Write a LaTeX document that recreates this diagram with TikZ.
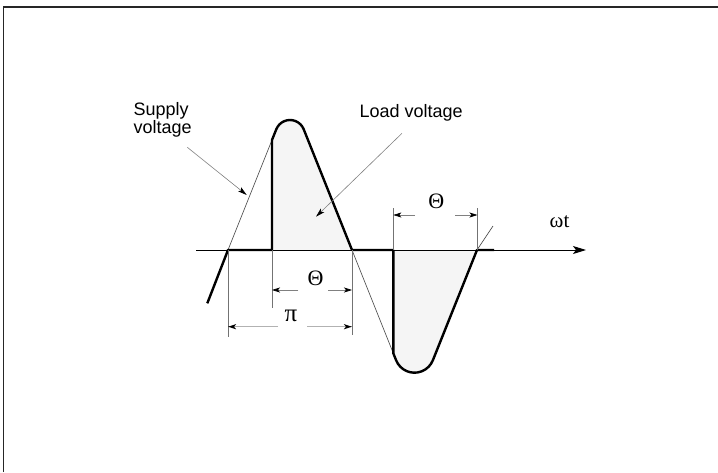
\documentclass[tikz,border=0pt]{standalone}
\usepackage{fontspec}
\setmainfont{Liberation Sans}
\newfontfamily\symfont{Liberation Serif}
\usetikzlibrary{arrows.meta}
\tikzset{
  wave/.style={line width=2.4pt, line join=round, black},
  supply/.style={line width=0.6pt, black!75},
  lobe/.style={fill=black!4},
  axisline/.style={line width=0.9pt, black, -{Stealth[length=13pt,width=8pt,inset=3pt]}},
  extline/.style={line width=0.6pt, black!55},
  dimthin/.style={line width=0.7pt, black!50, -{Stealth[length=8pt,width=5pt,inset=2pt,color=black]}},
  dimwide/.style={line width=1.4pt, black!30, -{Stealth[length=8pt,width=5pt,inset=2pt,color=black]}},
  leader/.style={line width=0.6pt, black!50, -{Stealth[length=9pt,width=5pt,inset=2pt,color=black]}},
  lbl/.style={inner sep=0pt, font=\fontsize{18}{16.7}\selectfont},
  greek/.style={inner sep=0pt, font=\symfont\fontsize{22}{22}\selectfont},
}
\begin{document}
\begin{tikzpicture}[x=1pt,y=-1pt]
\useasboundingbox (0,0) rectangle (718,472);
% frame
\draw[line width=1.3pt, black!85] (3.5,472) -- (3.5,7) -- (718,7);

% key points
\coordinate (start) at (207.3,303.3);
\coordinate (z1) at (228,250);
\coordinate (f1) at (272,250);
\coordinate (f1top) at (272,140);
\coordinate (t1) at (276.29,129.28);
\coordinate (z2) at (352,250);
\coordinate (f2) at (393.3,250);
\coordinate (f2bot) at (393.3,353.25);
\coordinate (t2) at (396.1,360.25);
\coordinate (z3) at (477,250);
\coordinate (tailthick) at (494,250);
\coordinate (tailthin) at (493,226);

% shaded lobes
\fill[lobe] (f1) -- (f1top) -- (t1) arc[start angle=201.8, end angle=338.2, radius=14.77] -- (z2) -- cycle;
\fill[lobe] (f2) -- (f2bot) -- (t2) arc[start angle=158.2, end angle=21.8, radius=19.8] -- (z3) -- cycle;

% axis
\coordinate (ax0) at (196,250);
\coordinate (ax1) at (586,250);
\draw[axisline] (ax0) -- (ax1);
\node[anchor=base west, inner sep=0pt, font=\symfont\fontsize{21}{21}\selectfont] (wt) at (549.5,227.7) {ωt};

% supply voltage (thin)
\draw[supply] (start) -- (z1) -- (t1) arc[start angle=201.8, end angle=338.2, radius=14.77] -- (z2)
  -- (t2) arc[start angle=158.2, end angle=21.8, radius=19.8] -- (z3) -- (tailthin);

% load voltage (thick)
\draw[wave] (start) -- (z1) -- (f1) -- (f1top) -- (t1) arc[start angle=201.8, end angle=338.2, radius=14.77] -- (z2)
  -- (f2) -- (f2bot) -- (t2) arc[start angle=158.2, end angle=21.8, radius=19.8] -- (z3) -- (tailthick);

% extension lines
\coordinate (e1) at (228,337);
\coordinate (e2) at (272,308.3);
\coordinate (e3) at (352,335);
\coordinate (e4) at (393.3,208);
\coordinate (e5) at (477.5,208);
\coordinate (z3b) at (477.5,250);
\draw[extline] (z1) -- (e1);
\draw[extline] (f1) -- (e2);
\draw[extline] (z2) -- (e3);
\draw[extline] (f2) -- (e4);
\draw[extline] (z3b) -- (e5);

% lower Theta
\node[greek] (th1) at (315.5,278.3) {Θ};
\coordinate (a1) at (298.3,290); \coordinate (a1e) at (272,290);
\coordinate (a2) at (328.3,290); \coordinate (a2e) at (352,290);
\draw[dimthin] (a1) -- (a1e);
\draw[dimthin] (a2) -- (a2e);

% pi
\node[greek, font=\symfont\fontsize{25}{25}\selectfont] (pi) at (291,315.5) {π};
\coordinate (b1) at (278,326.7); \coordinate (b1e) at (228,326.7);
\coordinate (b2) at (307,326.7); \coordinate (b2e) at (352,326.7);
\draw[dimwide] (b1) -- (b1e);
\draw[dimwide] (b2) -- (b2e);

% upper Theta
\node[greek] (th2) at (436.3,201.7) {Θ};
\coordinate (c1) at (415,215); \coordinate (c1e) at (393.3,215);
\coordinate (c2) at (455,215); \coordinate (c2e) at (477.5,215);
\draw[dimthin] (c1) -- (c1e);
\draw[dimthin] (c2) -- (c2e);

% labels and leaders
\node[lbl, anchor=north west, align=left] (sv) at (133.3,102.3) {Supply\\voltage};
\node[lbl, anchor=base west] (lv) at (359.5,117.7) {Load voltage};
\coordinate (sv0) at (187.3,147.3); \coordinate (sv1) at (246.7,195);
\coordinate (lv0) at (402,133.3); \coordinate (lv1) at (316,216.7);
\draw[leader] (sv0) -- (sv1);
\draw[leader] (lv0) -- (lv1);
\end{tikzpicture}
\end{document}
